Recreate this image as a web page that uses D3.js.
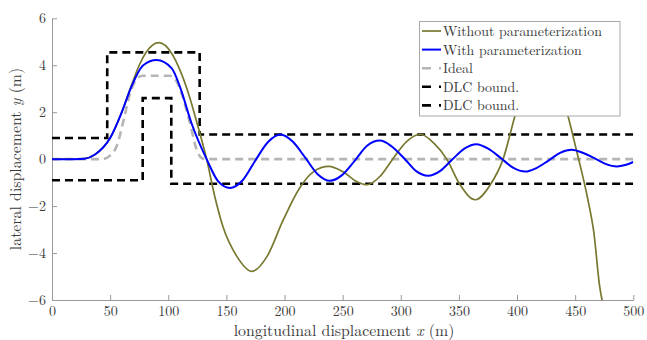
<!DOCTYPE html>
<html>
<head>
<meta charset="utf-8">
<script src="https://cdn.jsdelivr.net/npm/d3@7.9.0/dist/d3.min.js"></script>
<style>
  body { margin: 0; background: #fff; }
</style>
</head>
<body>
<svg id="chart" width="647" height="340"></svg>
<script>
// data, [x (m), y (m)]
const withoutParam = [
  [0, 0], [20, 0], [28, 0.02], [37, 0.2], [50, 0.9], [60, 2.0], [68, 3.1], [75, 4.0],
  [81, 4.55], [92, 4.96], [103, 4.5], [110, 3.8], [118, 2.7], [124, 1.67], [133, 0],
  [140, -1.59], [147, -2.87], [159, -4.14], [172, -4.78], [185, -4.14], [199, -2.58],
  [213, -1.23], [225, -0.53], [238, -0.31], [250, -0.53], [262, -0.95], [271, -1.09],
  [282, -0.74], [293, 0.0], [305, 0.75], [317, 1.06], [328, 0.7], [339.5, 0],
  [351, -1.09], [364, -1.73], [377, -1.09], [388, 0], [398, 1.81], [410, 3.8], [421, 4.6],
  [432, 3.8], [444, 1.81], [451, 0.4], [461, -1.74], [466, -3.1], [471, -5.4], [476, -6.6]
];
const withParam = [
  [0, 0], [20, 0], [28, 0.02], [37, 0.2], [50, 0.9], [60, 2.0], [68, 3.05], [78.5, 4.0],
  [90, 4.22], [103, 3.87], [110, 3.09], [120, 1.53], [133, 0], [143, -0.95], [153, -1.23],
  [164, -0.9], [175, -0.05], [186, 0.74], [196.5, 1.05], [207, 0.75], [218, 0.05],
  [228.5, -0.64], [239, -0.92], [249.5, -0.68], [260.5, -0.06], [271, 0.57], [282, 0.79],
  [292, 0.55], [303, 0.03], [313, -0.5], [323.5, -0.71], [334, -0.5], [344, -0.03],
  [355, 0.46], [365, 0.64], [375.5, 0.44], [386, 0.05], [396.5, -0.36], [407, -0.53],
  [417, -0.37], [427, -0.06], [437, 0.27], [447, 0.4], [457, 0.26], [466.5, 0.04],
  [476, -0.2], [486, -0.31], [493, -0.25], [500, -0.12]
];
const ideal = [
  [0, 0], [43, 0], [50, 0.15], [56, 0.6], [61.6, 1.67], [67.4, 2.85], [73, 3.42],
  [78, 3.55], [101, 3.55], [106, 3.4], [110, 3.0], [118.7, 1.53], [124.4, 0.4],
  [129, 0.04], [133, 0], [500, 0]
];
const upperBound = [[0, 0.9], [47.5, 0.9], [47.5, 4.55], [127, 4.55], [127, 1.05], [500, 1.05]];
const lowerBound = [[0, -0.9], [78, -0.9], [78, 2.6], [102.6, 2.6], [102.6, -1.05], [500, -1.05]];

const xTicks = [0, 50, 100, 150, 200, 250, 300, 350, 400, 450, 500];
const yTicks = [-6, -4, -2, 0, 2, 4, 6];
const legendLabels = ["Without parameterization", "With parameterization", "Ideal", "DLC bound.", "DLC bound."];

const font = '"Latin Modern Roman", "Liberation Serif", serif';
const textColor = "#3a3a3a";
const axisColor = "#9a9a9a";

const svg = d3.select("#chart");
const x = d3.scaleLinear().domain([0, 500]).range([52, 633.3]);
const y = d3.scaleLinear().domain([-6, 6]).range([300, 18.3]);

// font size that makes a sample string a given width
function fitSize(sample, width) {
  const t = svg.append("text").style("font-family", font).style("font-size", "20px").text(sample);
  const w = t.node().getComputedTextLength();
  t.remove();
  return 20 * width / w;
}
const tickSize = fitSize("100", 21);
const legendSize = fitSize(legendLabels[0], 159);
const labelSize = fitSize("longitudinal displacement x (m)", 222);

svg.append("defs").append("clipPath").attr("id", "plotclip")
  .append("rect").attr("x", 52).attr("y", 18.3).attr("width", 581.3).attr("height", 281.7);

// axes, ticks pointing inward
const xAxis = svg.append("g").attr("transform", "translate(0,300)")
  .call(d3.axisBottom(x).tickValues(xTicks).tickSizeInner(-5).tickSizeOuter(0));
const yAxis = svg.append("g").attr("transform", "translate(52,0)")
  .call(d3.axisLeft(y).tickValues(yTicks).tickSizeInner(-5).tickSizeOuter(0)
    .tickFormat(d3.format("d")));
[xAxis, yAxis].forEach(g => {
  g.select(".domain").attr("stroke", axisColor);
  g.selectAll(".tick line").attr("stroke", axisColor);
  g.selectAll(".tick text").attr("font-size", null)
    .style("font-family", font).style("font-size", tickSize + "px").style("fill", textColor);
});
xAxis.selectAll(".tick text").attr("y", 6).attr("dy", "0.71em");
yAxis.selectAll(".tick text").attr("x", -6).attr("dy", "0.32em");

// axis labels
const xl = svg.append("text").attr("x", 344).attr("y", 336).attr("text-anchor", "middle")
  .style("font-family", font).style("font-size", labelSize + "px").style("fill", textColor);
xl.append("tspan").text("longitudinal displacement ");
xl.append("tspan").style("font-style", "italic").text("x");
xl.append("tspan").text(" (m)");

const yl = svg.append("text").attr("transform", "translate(21,159) rotate(-90)")
  .attr("text-anchor", "middle")
  .style("font-family", font).style("font-size", labelSize + "px").style("fill", textColor);
yl.append("tspan").text("lateral displacement ");
yl.append("tspan").style("font-style", "italic").text("y");
yl.append("tspan").text(" (m)");

// lines
const smooth = d3.line().x(d => x(d[0])).y(d => y(d[1])).curve(d3.curveMonotoneX);
const straight = d3.line().x(d => x(d[0])).y(d => y(d[1]));

const plot = svg.append("g").attr("clip-path", "url(#plotclip)");
const series = [
  { data: upperBound, gen: straight, color: "#000", width: 2.6, dash: "8,5" },
  { data: lowerBound, gen: straight, color: "#000", width: 2.6, dash: "8,5" },
  { data: ideal, gen: smooth, color: "#b5b5b5", width: 2.6, dash: "8,5" },
  { data: withoutParam, gen: smooth, color: "#787830", width: 1.7, dash: null },
  { data: withParam, gen: smooth, color: "#0000ff", width: 2, dash: null }
];
series.forEach(s => {
  plot.append("path").attr("d", s.gen(s.data)).attr("fill", "none")
    .attr("stroke", s.color).attr("stroke-width", s.width)
    .attr("stroke-dasharray", s.dash);
});

// legend
const legend = svg.append("g");
legend.append("rect").attr("x", 419.5).attr("y", 21.5).attr("width", 200.5).attr("height", 94.5)
  .attr("fill", "#fff").attr("stroke", "#a8a8a8").attr("stroke-width", 1);
const legendItems = [
  { color: "#787830", width: 1.7, dash: null },
  { color: "#0000ff", width: 2, dash: null },
  { color: "#b5b5b5", width: 2.6, dash: "9,8" },
  { color: "#000", width: 2.6, dash: "9,8" },
  { color: "#000", width: 2.6, dash: "9,8" }
];
legendLabels.forEach((lab, i) => {
  const cy = 31 + i * 18.6;
  const it = legendItems[i];
  legend.append("line").attr("x1", 422).attr("x2", 441).attr("y1", cy).attr("y2", cy)
    .attr("stroke", it.color).attr("stroke-width", it.width).attr("stroke-dasharray", it.dash);
  legend.append("text").attr("x", 443).attr("y", cy + 5)
    .style("font-family", font).style("font-size", legendSize + "px").style("fill", textColor).text(lab);
});
</script>
</body>
</html>
